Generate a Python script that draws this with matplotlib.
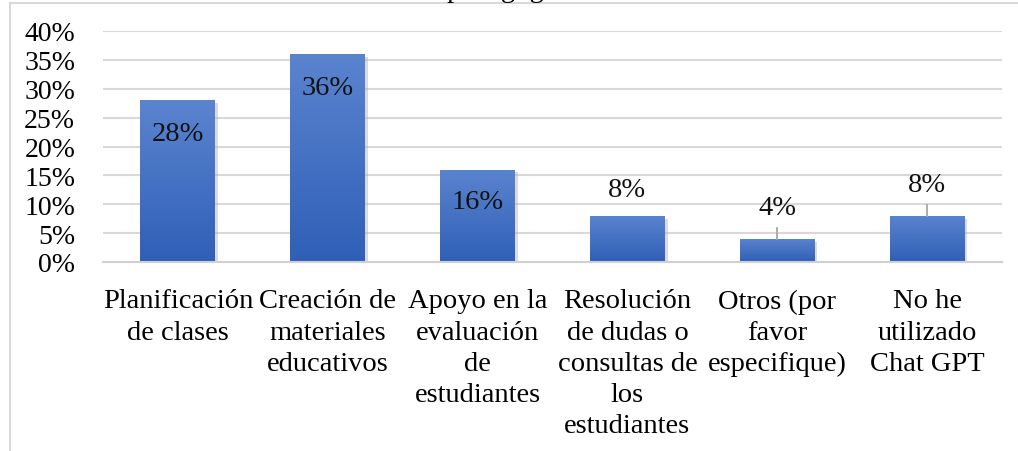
"""Bar chart: uso pedagógico de Chat GPT (porcentaje de docentes)."""

import matplotlib
matplotlib.use("Agg")
import matplotlib.pyplot as plt
import numpy as np
from matplotlib.colors import LinearSegmentedColormap
from matplotlib.lines import Line2D
from matplotlib.ticker import FuncFormatter, MultipleLocator
import matplotlib.patheffects as pe

categories = [
    "Planificación\nde clases",
    "Creación de\nmateriales\neducativos",
    "Apoyo en la\nevaluación\nde\nestudiantes",
    "Resolución\nde dudas o\nconsultas de\nlos\nestudiantes",
    "Otros (por\nfavor\nespecifique)",
    "No he\nutilizado\nChat GPT",
]
values = [0.28, 0.36, 0.16, 0.08, 0.04, 0.08]
value_labels = ["28%", "36%", "16%", "8%", "4%", "8%"]

# where each data label sits (center, in data units) and whether it has a leader line
label_y = [0.222, 0.303, 0.104, 0.125, 0.095, 0.135]
leader = [False, False, False, False, True, True]

plt.rcParams["font.family"] = ["Liberation Serif", "DejaVu Serif"]

W, H, DPI = 1018, 452, 100
fig = plt.figure(figsize=(W / DPI, H / DPI), dpi=DPI)
ax = fig.add_axes([103 / W, 1 - 263 / H, (1002 - 103) / W, (263 - 32) / H])

x = np.arange(len(values))
bars = ax.bar(x, values, width=0.5, color="#4472c4", zorder=2,
              path_effects=[pe.SimplePatchShadow(offset=(2, -2), shadow_rgbFace="#b0b0b0", alpha=0.45),
                            pe.Normal()])

# vertical gradient fill, lighter on top
cmap = LinearSegmentedColormap.from_list("blue", ["#2f5fb7", "#5b84cf"])
grad = np.linspace(0, 1, 256).reshape(-1, 1)
for b in bars:
    x0, w, h = b.get_x(), b.get_width(), b.get_height()
    im = ax.imshow(grad, cmap=cmap, origin="lower", aspect="auto",
                   extent=(x0, x0 + w, 0, h), zorder=3)
    im.set_clip_path(b)

for xi, v, lab, ly, ld in zip(x, values, value_labels, label_y, leader):
    ax.text(xi, ly, lab, ha="center", va="center", fontsize=20.5, color="#111111", zorder=5)
    if ld:
        ax.plot([xi, xi], [v, ly - 0.036], color="#a6a6a6", lw=1.3, zorder=4)

ax.set_xlim(-0.5, len(values) - 0.5)
ax.set_ylim(0, 0.40)
ax.yaxis.set_major_locator(MultipleLocator(0.05))
ax.yaxis.set_major_formatter(FuncFormatter(lambda v, _: f"{v * 100:.0f}%"))
ax.grid(axis="y", color="#d9d9d9", lw=1.5, zorder=0)
ax.set_axisbelow(True)
for s in ("top", "right", "left"):
    ax.spines[s].set_visible(False)
ax.spines["bottom"].set_color("#d0d0d0")
ax.spines["bottom"].set_linewidth(1.5)
ax.spines["bottom"].set_zorder(6)
ax.tick_params(axis="both", length=0)
ax.tick_params(axis="y", labelsize=20, pad=20)
ax.set_xticks(x)
ax.set_xticklabels(categories, fontsize=20.5, linespacing=1.33, va="top")
ax.tick_params(axis="x", pad=19)

# chart title, cut off at the top edge of the picture
fig.text(394 / W, 1 + 3 / H, "Uso pedagógico", fontsize=20.5, ha="left", va="baseline")

# outer frame of the chart
fig.add_artist(Line2D([10 / W, 1.0], [1 - 4 / H, 1 - 4 / H], transform=fig.transFigure,
                      color="#d9d9d9", lw=1.5))
fig.add_artist(Line2D([10 / W, 10 / W], [0, 1 - 4 / H], transform=fig.transFigure,
                      color="#d9d9d9", lw=1.5))

fig.savefig("out.png", dpi=DPI)
